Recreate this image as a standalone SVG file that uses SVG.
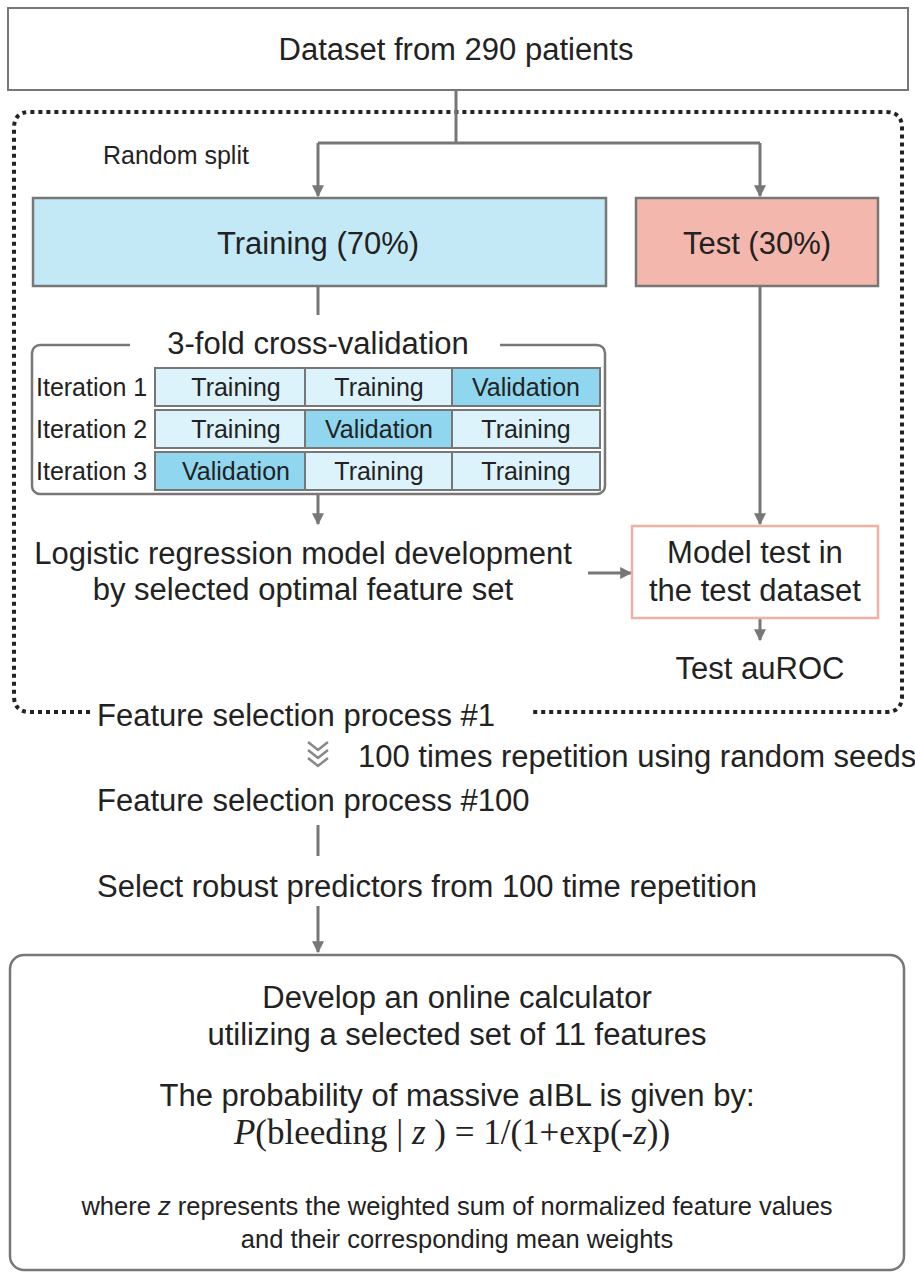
<svg xmlns="http://www.w3.org/2000/svg" width="915" height="1280" viewBox="0 0 915 1280">
<style>
text{font-family:"Liberation Sans",Arial,sans-serif;fill:#222;}
.t26{font-size:31px}.t24{font-size:25px}.t22{font-size:25px}.t20{font-size:25.5px}
.c{text-anchor:middle}
.ln{stroke:#777;stroke-width:3;fill:none}
.cell{stroke:#777;stroke-width:2}
.lt{fill:#ddf3fb}.vd{fill:#8fd6ee}
</style>
<defs><marker id="ar" viewBox="0 0 10 10" refX="9" refY="5" markerWidth="4" markerHeight="4" orient="auto"><path d="M0,0L10,5L0,10z" fill="#777"/></marker></defs>
<rect width="915" height="1280" fill="#fff"/>
<g id="dotted">
<path d="M90,712 H30 Q14,712 14,696 V128 Q14,112 30,112 H886 Q902,112 902,128 V696 Q902,712 886,712 H530" fill="none" stroke="#222" stroke-width="4" stroke-dasharray="4,4"/>
</g>
<g id="connectors">
<path class="ln" d="M456,90 V143 M318,143 H760"/>
<path class="ln" d="M318,143 V196" marker-end="url(#ar)"/>
<path class="ln" d="M760,143 V196" marker-end="url(#ar)"/>
<path class="ln" d="M318,286 V315"/>
<path class="ln" d="M318,494 V524" marker-end="url(#ar)"/>
<path class="ln" d="M760,286 V524" marker-end="url(#ar)"/>
<path class="ln" d="M588,573 H631" marker-end="url(#ar)"/>
<path class="ln" d="M760,618 V640" marker-end="url(#ar)"/>
<path class="ln" d="M318,825 V856"/>
<path class="ln" d="M318,906 V952" marker-end="url(#ar)"/>
<path d="M308,742 L318,750 L328,742 M308,750 L318,758 L328,750 M308,758 L318,766 L328,758" fill="none" stroke="#888" stroke-width="2.5"/>
</g>
<g id="dataset"><rect x="8" y="8" width="900" height="82" fill="#fff" stroke="#777" stroke-width="2"/><text class="t26 c" x="456" y="60">Dataset from 290 patients</text></g>
<text id="split" class="t24" x="103" y="164">Random split</text>
<g id="training"><rect x="33" y="198" width="573" height="88" fill="#c4e9f6" stroke="#777" stroke-width="2.5"/><text class="t26 c" x="318" y="254">Training (70%)</text></g>
<g id="test"><rect x="636" y="198" width="242" height="88" fill="#f4b7ad" stroke="#777" stroke-width="2.5"/><text class="t26 c" x="757" y="254">Test (30%)</text></g>
<g id="cv">
<rect x="32" y="345" width="573" height="149" rx="8" fill="#fff" stroke="#777" stroke-width="2.5"/>
<rect x="130" y="330" width="370" height="30" fill="#fff"/>
<text class="t26 c" x="318" y="354">3-fold cross-validation</text>
<rect class="cell lt" x="155" y="368" width="150" height="38"/><rect class="cell lt" x="305" y="368" width="147" height="38"/><rect class="cell vd" x="452" y="368" width="148" height="38"/>
<rect class="cell lt" x="155" y="410" width="150" height="38"/><rect class="cell vd" x="305" y="410" width="147" height="38"/><rect class="cell lt" x="452" y="410" width="148" height="38"/>
<rect class="cell vd" x="155" y="452" width="150" height="38"/><rect class="cell lt" x="305" y="452" width="147" height="38"/><rect class="cell lt" x="452" y="452" width="148" height="38"/>
<text class="t22" x="36" y="396">Iteration 1</text><text class="t22" x="36" y="438">Iteration 2</text><text class="t22" x="36" y="480">Iteration 3</text>
<text class="t22 c" x="236" y="396">Training</text><text class="t22 c" x="379" y="396">Training</text><text class="t22 c" x="526" y="396">Validation</text>
<text class="t22 c" x="236" y="438">Training</text><text class="t22 c" x="379" y="438">Validation</text><text class="t22 c" x="526" y="438">Training</text>
<text class="t22 c" x="236" y="480">Validation</text><text class="t22 c" x="379" y="480">Training</text><text class="t22 c" x="526" y="480">Training</text>
</g>
<g id="logistic"><text class="t26 c" x="303" y="564">Logistic regression model development</text><text class="t26 c" x="303" y="600">by selected optimal feature set</text></g>
<g id="modeltest"><rect x="632" y="526" width="246" height="92" fill="#fff" stroke="#f0b0a5" stroke-width="2.5"/><text class="t26 c" x="755" y="563">Model test in</text><text class="t26 c" x="755" y="601">the test dataset</text></g>
<text id="auroc" class="t26 c" x="760" y="679">Test auROC</text>
<text id="fs1" class="t26" x="97" y="726">Feature selection process #1</text>
<text id="rep" class="t26" x="358" y="767">100 times repetition using random seeds</text>
<text id="fs100" class="t26" x="97" y="811">Feature selection process #100</text>
<text id="robust" class="t26" x="97" y="897">Select robust predictors from 100 time repetition</text>
<g id="calc">
<rect x="10" y="955" width="894" height="315" rx="14" fill="#fff" stroke="#777" stroke-width="2.5"/>
<text class="t26 c" x="457" y="1008">Develop an online calculator</text>
<text class="t26 c" x="457" y="1045">utilizing a selected set of 11 features</text>
<text class="t26 c" x="457" y="1106">The probability of massive aIBL is given by:</text>
<text class="c" x="452" y="1144" style="font-family:'Liberation Serif','Times New Roman',serif;font-size:35px"><tspan font-style="italic">P</tspan>(bleeding | <tspan font-style="italic">z</tspan> ) = 1/(1+exp(-<tspan font-style="italic">z</tspan>))</text>
<text class="t20 c" x="457" y="1215">where <tspan font-style="italic">z</tspan> represents the weighted sum of normalized feature values</text>
<text class="t20 c" x="457" y="1248">and their corresponding mean weights</text>
</g>
</svg>
